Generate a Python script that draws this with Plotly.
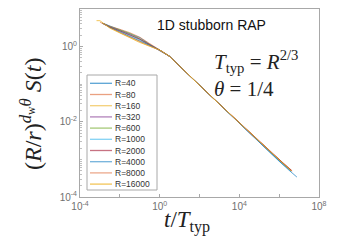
import plotly.graph_objects as go

# ---------------- data (log10 values) ----------------
labels = ["R=40", "R=80", "R=160", "R=320", "R=600",
          "R=1000", "R=2000", "R=4000", "R=8000", "R=16000"]

log_t_R40    = [-2.85, -2.5, -2.0, -1.5, -1.0, -0.5, 0.0, 0.5, 1.0, 2.0, 3.0, 4.0, 5.0, 5.5, 6.0, 6.5, 6.75, 6.89]
log_S_R40    = [0.62, 0.55, 0.45, 0.36, 0.24, 0.06, -0.09, -0.26, -0.52, -1.03, -1.53, -2.04, -2.55, -2.79, -3.05, -3.29, -3.40, -3.47]
log_t_R80    = [-2.85, -2.5, -2.0, -1.5, -1.0, -0.5, 0.0, 0.5, 1.0, 2.0, 3.0, 4.0, 5.0, 5.5, 6.0, 6.65]
log_S_R80    = [0.62, 0.54, 0.46, 0.37, 0.25, 0.07, -0.09, -0.26, -0.52, -1.03, -1.53, -2.03, -2.52, -2.76, -3.01, -3.31]
log_t_R160   = [-2.9, -2.5, -2.0, -1.5, -1.0, -0.5, 0.0, 0.5, 1.0, 2.0, 3.0, 4.0, 5.0, 5.5, 6.0, 6.6]
log_S_R160   = [0.63, 0.51, 0.39, 0.27, 0.14, 0.02, -0.09, -0.26, -0.52, -1.03, -1.53, -2.03, -2.53, -2.78, -3.03, -3.31]
log_t_R320   = [-2.85, -2.5, -2.0, -1.5, -1.0, -0.5, 0.0, 0.5, 1.0, 2.0, 3.0, 4.0, 5.0, 5.5, 6.0, 6.6]
log_S_R320   = [0.62, 0.52, 0.42, 0.32, 0.19, 0.04, -0.09, -0.26, -0.52, -1.03, -1.53, -2.03, -2.54, -2.78, -3.02, -3.30]
log_t_R600   = [-2.85, -2.5, -2.0, -1.5, -1.0, -0.5, 0.0, 0.5, 1.0, 2.0, 3.0, 4.0, 5.0, 5.5, 6.0, 6.6]
log_S_R600   = [0.62, 0.53, 0.44, 0.35, 0.21, 0.05, -0.09, -0.26, -0.52, -1.03, -1.53, -2.03, -2.52, -2.77, -3.02, -3.30]
log_t_R1000  = [-2.85, -2.5, -2.0, -1.5, -1.0, -0.5, 0.0, 0.5, 1.0, 2.0, 3.0, 4.0, 5.0, 5.5, 6.0, 6.6]
log_S_R1000  = [0.62, 0.52, 0.41, 0.30, 0.18, 0.04, -0.09, -0.26, -0.52, -1.03, -1.53, -2.04, -2.54, -2.79, -3.04, -3.32]
log_t_R2000  = [-2.85, -2.5, -2.0, -1.5, -1.0, -0.5, 0.0, 0.5, 1.0, 2.0, 3.0, 4.0, 5.0, 5.5, 6.0, 6.6]
log_S_R2000  = [0.62, 0.52, 0.42, 0.32, 0.20, 0.05, -0.09, -0.26, -0.52, -1.03, -1.53, -2.02, -2.51, -2.75, -3.01, -3.29]
log_t_R4000  = [-2.9, -2.5, -2.0, -1.5, -1.0, -0.5, 0.0, 0.5, 1.0, 2.0, 3.0, 4.0, 5.0, 5.5, 6.0, 6.6]
log_S_R4000  = [0.63, 0.51, 0.39, 0.27, 0.15, 0.03, -0.09, -0.26, -0.52, -1.03, -1.53, -2.04, -2.55, -2.80, -3.04, -3.32]
log_t_R8000  = [-3.0, -2.5, -2.0, -1.5, -1.0, -0.5, 0.0, 0.5, 1.0, 2.0, 3.0, 4.0, 5.0, 5.5, 6.0, 6.65]
log_S_R8000  = [0.65, 0.50, 0.37, 0.25, 0.12, 0.01, -0.09, -0.26, -0.52, -1.03, -1.53, -2.03, -2.52, -2.77, -3.01, -3.30]
log_t_R16000 = [-3.17, -3.0, -2.5, -2.0, -1.5, -1.0, -0.5, 0.0, 0.5, 1.0, 2.0, 3.0, 4.0, 5.0, 5.5, 6.0, 6.6]
log_S_R16000 = [0.69, 0.69, 0.49, 0.36, 0.24, 0.11, 0.01, -0.09, -0.26, -0.52, -1.03, -1.53, -2.03, -2.53, -2.78, -3.03, -3.31]

series_t = [log_t_R40, log_t_R80, log_t_R160, log_t_R320, log_t_R600,
            log_t_R1000, log_t_R2000, log_t_R4000, log_t_R8000, log_t_R16000]
series_S = [log_S_R40, log_S_R80, log_S_R160, log_S_R320, log_S_R600,
            log_S_R1000, log_S_R2000, log_S_R4000, log_S_R8000, log_S_R16000]

x_tick_exps = [-4, -2, 0, 2, 4, 6, 8]
x_tick_text = ["10<sup>-4</sup>", "", "10<sup>0</sup>", "", "10<sup>4</sup>", "", "10<sup>8</sup>"]
y_tick_exps = [-4, -2, 0]
y_tick_text = ["10<sup>-4</sup>", "10<sup>-2</sup>", "10<sup>0</sup>"]

# ---------------- style ----------------
colors = ["rgba(0,114,189,0.65)", "rgba(217,83,25,0.55)", "rgba(237,177,32,0.6)",
          "rgba(126,47,142,0.6)", "rgba(119,172,48,0.65)", "rgba(77,190,238,0.7)",
          "rgba(162,20,47,0.6)", "rgba(0,114,189,0.55)", "rgba(217,83,25,0.5)",
          "rgba(237,177,32,0.75)"]

W, H = 348, 243
ML, MR, MT, MB = 80, 29, 9, 46
PW, PH = W - ML - MR, H - MT - MB


def px_x(px):
    return (px - ML) / PW


def px_y(py):
    return (H - MB - py) / PH


fig = go.Figure()
for lab, lt, ls, col in zip(labels, series_t, series_S, colors):
    fig.add_trace(go.Scatter(
        x=[10 ** v for v in lt], y=[10 ** v for v in ls], mode="lines",
        name=lab, line=dict(color=col, width=1), showlegend=False, hoverinfo="skip"))

axis_common = dict(type="log", showline=True, linecolor="#a8a8a8", linewidth=1,
                   mirror=True, ticks="inside", ticklen=3, tickcolor="#a8a8a8",
                   showgrid=False, zeroline=False,
                   tickfont=dict(family="Liberation Sans, Arial", size=10, color="#707070"))

fig.update_xaxes(range=[-4, 8], tickvals=[10 ** e for e in x_tick_exps],
                 ticktext=x_tick_text, **axis_common)
fig.update_yaxes(range=[-4, 1], tickvals=[10 ** e for e in y_tick_exps],
                 ticktext=y_tick_text,
                 minor=dict(ticks="inside", ticklen=2, tickcolor="#c0c0c0", dtick="D1"),
                 **axis_common)

annotations = [
    dict(text="1D stubborn RAP", x=px_x(211), y=px_y(25), xref="paper", yref="paper",
         xanchor="center", yanchor="middle", showarrow=False,
         font=dict(family="Liberation Sans, Arial", size=14, color="#111")),
    dict(text="<i>T</i><sub>typ</sub> = <i>R</i><sup>2/3</sup><br><i>θ</i> = 1/4",
         x=px_x(212), y=px_y(74), xref="paper", yref="paper", xanchor="left",
         yanchor="middle", align="left", showarrow=False,
         font=dict(family="Liberation Serif, Times New Roman", size=21, color="#222")),
    dict(text="<i>t</i>/<i>T</i><sub>typ</sub>", x=px_x(187), y=px_y(222),
         xref="paper", yref="paper", xanchor="center", yanchor="middle", showarrow=False,
         font=dict(family="Liberation Serif, Times New Roman", size=23, color="#222")),
    dict(text="(<i>R</i>/<i>r</i>)<sup><i>d</i><sub>w</sub><i>θ</i></sup> <i>S</i>(<i>t</i>)",
         x=px_x(31), y=px_y(114), xref="paper", yref="paper", textangle=-90,
         xanchor="center", yanchor="middle", showarrow=False,
         font=dict(family="Liberation Serif, Times New Roman", size=24, color="#222")),
]

# manual compact legend
shapes = [dict(type="rect", xref="paper", yref="paper",
               x0=px_x(87), x1=px_x(157), y0=px_y(190), y1=px_y(75),
               line=dict(color="#a8a8a8", width=1), fillcolor="white", layer="above")]
for i, (lab, col) in enumerate(zip(labels, colors)):
    yy = px_y(83.3 + 11.2 * i)
    shapes.append(dict(type="line", xref="paper", yref="paper",
                       x0=px_x(90), x1=px_x(112), y0=yy, y1=yy,
                       line=dict(color=col, width=1.3), layer="above"))
    annotations.append(dict(text=lab, x=px_x(113), y=yy, xref="paper", yref="paper",
                            xanchor="left", yanchor="middle", showarrow=False,
                            font=dict(family="Liberation Sans, Arial", size=8.5, color="#333")))

fig.update_layout(width=W, height=H, margin=dict(l=ML, r=MR, t=MT, b=MB),
                  paper_bgcolor="white", plot_bgcolor="white", hovermode=False,
                  annotations=annotations, shapes=shapes, showlegend=False)

fig.write_html("out.html", config={"displayModeBar": False, "staticPlot": True},
               post_script="document.body.style.margin='0';")
